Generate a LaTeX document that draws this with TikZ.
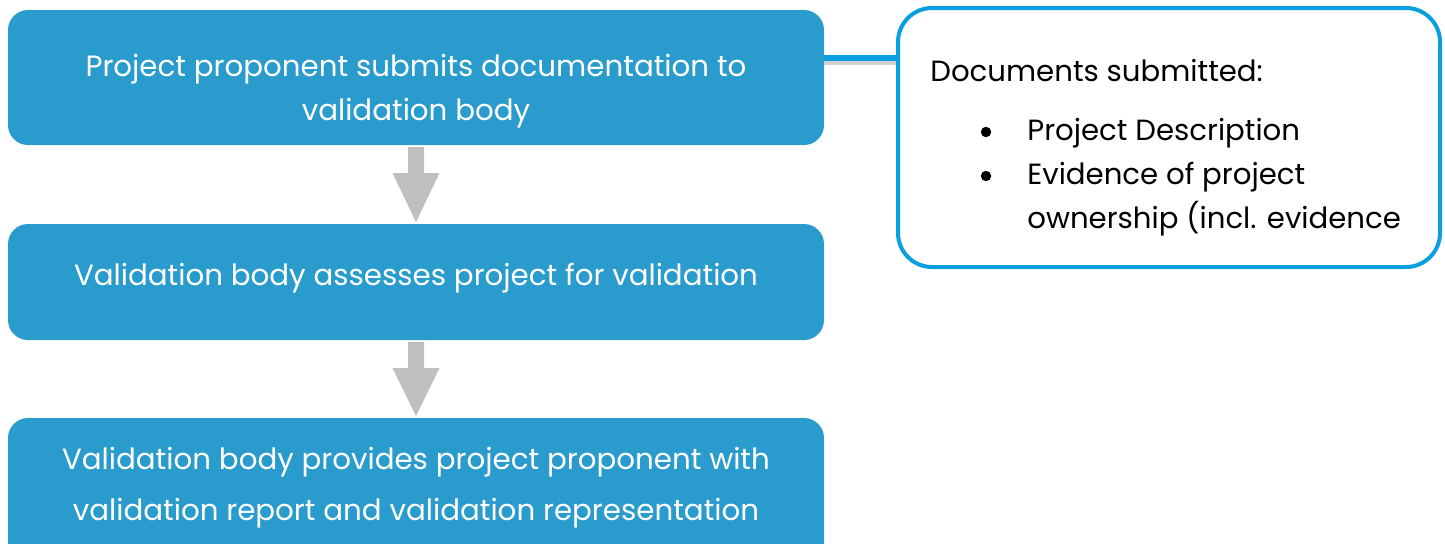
\documentclass[tikz,border=0pt]{standalone}
\usepackage{fontspec}
\setmainfont{Poppins}
\usetikzlibrary{calc}
\definecolor{boxblue}{HTML}{2A9BCD}
\definecolor{lineblue}{HTML}{0AA0DF}
\definecolor{arrowgray}{HTML}{BFBFBF}
\tikzset{
  stepbox/.style={fill=boxblue, rounded corners=10pt},
  notebox/.style={draw=lineblue, line width=2pt, fill=white, rounded corners=17pt},
  wtext/.style={text=white, font=\fontsize{14.65pt}{18pt}\selectfont, anchor=base, inner sep=0pt},
  btext/.style={text=black, font=\fontsize{14.6pt}{18pt}\selectfont, anchor=base west, inner sep=0pt},
  blockarrow/.style={fill=arrowgray},
}
\begin{document}
\begin{tikzpicture}[x=0.5pt,y=-0.5pt]
\useasboundingbox (0,0) rectangle (1445,543);
\clip (0,0) rectangle (1445,543);
% boxes
\path[stepbox] (8,10) rectangle (824,145);
\coordinate (b1n) at (416,10); \coordinate (b1s) at (416,145); \coordinate (b1e) at (824,58);
\path[stepbox] (8,224) rectangle (824,340);
\coordinate (b2n) at (416,224); \coordinate (b2s) at (416,340);
\path[stepbox] (8,418) rectangle (824,580);
\coordinate (b3n) at (416,418);
% connector with shadow
\coordinate (nw) at (898,58);
\draw[black!18, line width=2pt] ($(b1e)+(0,5)$) -- ($(nw)+(0,5)$);
\draw[lineblue, line width=2.6pt] (b1e) -- (nw);
% note box
\path[notebox] (898,8) rectangle (1440,267);
% block arrows
\fill[blockarrow] ($(b1s)+(-8,2)$) -- ++(16,0) -- ++(0,26) -- ++(15.5,0) -- ($(b2n)+(0,-2)$) -- ($(b1s)+(-23.5,28)$) -- ++(15.5,0) -- cycle;
\fill[blockarrow] ($(b2s)+(-8,2)$) -- ++(16,0) -- ++(0,26) -- ++(15.5,0) -- ($(b3n)+(0,-2)$) -- ($(b2s)+(-23.5,28)$) -- ++(15.5,0) -- cycle;
% texts
\node[wtext] (t1a) at (416,76) {Project proponent submits documentation to};
\node[wtext] (t1b) at (416,120) {validation body};
\node[wtext] (t2) at (416,285) {Validation body assesses project for validation};
\node[wtext] (t3a) at (416,469) {Validation body provides project proponent with};
\node[wtext] (t3b) at (416,520) {validation report and validation representation};
\node[btext] (n0) at (930,81) {Documents submitted:};
\node[btext] (n1) at (1027,140) {Project Description};
\node[btext] (n2) at (1027,184) {Evidence of project};
\node[btext] (n3) at (1027,228) {ownership (incl. evidence};
\fill (986,132) circle (2.6pt);
\fill (986,176) circle (2.6pt);
\end{tikzpicture}
\end{document}
